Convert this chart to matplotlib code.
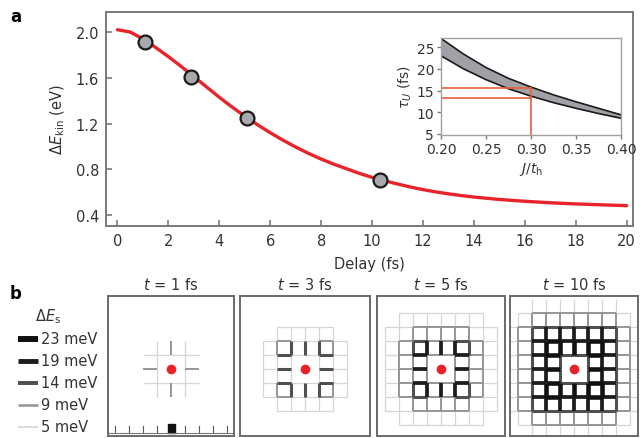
import numpy as np
import matplotlib
matplotlib.use('Agg')
import matplotlib.pyplot as plt

plt.rcParams['font.family'] = ['DejaVu Sans']
plt.rcParams['mathtext.fontset'] = 'dejavusans'

# ---- panel a data ----
delay = [0, 0.5, 1, 1.5, 2, 2.5, 3, 3.5, 4, 4.5, 5, 5.5, 6, 6.5, 7, 7.5, 8, 8.5,
         9, 9.5, 10, 10.5, 11, 11.5, 12, 12.5, 13, 13.5, 14, 15, 16, 17, 18, 19, 20]
dEkin = [2.02, 2.0, 1.94, 1.865, 1.785, 1.70, 1.61, 1.52, 1.43, 1.345, 1.265,
         1.19, 1.12, 1.055, 0.995, 0.94, 0.89, 0.845, 0.805, 0.765, 0.73, 0.70,
         0.672, 0.646, 0.623, 0.603, 0.586, 0.571, 0.558, 0.537, 0.521, 0.508,
         0.498, 0.49, 0.483]
pt_delay = [1.1, 2.9, 5.1, 10.3]
pt_dEkin = [1.91, 1.61, 1.25, 0.71]

# inset data
j_th = [0.20, 0.225, 0.25, 0.275, 0.30, 0.325, 0.35, 0.375, 0.40]
tau_hi = [27.0, 23.4, 20.3, 17.8, 15.8, 14.0, 12.4, 10.9, 9.4]
tau_lo = [23.0, 20.0, 17.5, 15.4, 13.7, 12.2, 10.9, 9.7, 8.6]
tau_mark = [15.6, 13.3]
j_mark = 0.30

# ---- panel b data ----
times = [1, 3, 5, 10]
legend_meV = [23, 19, 14, 9, 5]
# bond energies (meV) per bond class: (distance along bond, distance across)
bonds_t1 = {(1.5, 0): 9, (0.5, 1): 5, (1.5, 1): 5}
bonds_t3 = {(1.5, 0): 14, (1.5, 1): 14, (1.5, 2): 9, (0.5, 1): 5, (2.5, 0): 5,
            (2.5, 1): 5, (0.5, 2): 5, (2.5, 2): 5, (0.5, 3): 5, (1.5, 3): 5}
bonds_t5 = {(1.5, 0): 19, (1.5, 1): 19, (1.5, 2): 14, (0.5, 1): 9, (2.5, 0): 9,
            (2.5, 1): 9, (0.5, 2): 9, (2.5, 2): 9, (0.5, 3): 9, (1.5, 3): 9,
            (2.5, 3): 5, (3.5, 0): 5, (3.5, 1): 5, (3.5, 2): 5, (3.5, 3): 5,
            (0.5, 4): 5, (1.5, 4): 5, (2.5, 4): 5}
bonds_t10 = {(1.5, 0): 23, (1.5, 1): 23, (1.5, 2): 23, (0.5, 1): 14, (2.5, 0): 19,
             (2.5, 1): 19, (0.5, 2): 19, (2.5, 2): 19, (0.5, 3): 14, (1.5, 3): 14,
             (2.5, 3): 14, (3.5, 0): 9, (3.5, 1): 9, (3.5, 2): 9, (3.5, 3): 9,
             (0.5, 4): 9, (1.5, 4): 9, (2.5, 4): 9, (3.5, 4): 5,
             (4.5, 0): 5, (4.5, 1): 5, (4.5, 2): 5, (4.5, 3): 5}
all_bonds = [bonds_t1, bonds_t3, bonds_t5, bonds_t10]

style = {23: ('#111111', 3.3), 19: ('#1c1c1c', 2.7), 14: ('#505050', 2.2),
         9: ('#959595', 1.4), 5: ('#d6d6d6', 0.9)}

red = '#e8232a'
spine_c = '#7a7a7a'
txt_c = '#333333'

fig = plt.figure(figsize=(6.4, 4.39), dpi=100)

# background axes in pixel coordinates for labels/legend
bg = fig.add_axes([0, 0, 1, 1], zorder=-1)
bg.set_xlim(0, 640)
bg.set_ylim(439, 0)
bg.axis('off')
bg.text(10, 17, 'a', fontsize=12, fontweight='bold', va='center')
bg.text(10, 294, 'b', fontsize=12, fontweight='bold', va='center')

# ---- panel a ----
ax = fig.add_axes([106 / 640, 1 - 227 / 439, 527 / 640, 214 / 439])
ax.plot(delay, dEkin, color=red, lw=2.4, zorder=2, solid_capstyle='round')
ax.plot(pt_delay, pt_dEkin, 'o', ms=10, mfc='#a9a9ad', mec='#1a1a1a', mew=1.6, zorder=3)
ax.set_xlim(-0.45, 20.25)
ax.set_ylim(0.305, 2.175)
ax.set_xticks(range(0, 21, 2))
ax.set_yticks([0.4, 0.8, 1.2, 1.6, 2.0])
ax.set_yticklabels(['0.4', '0.8', '1.2', '1.6', '2.0'])
ax.tick_params(direction='in', length=4, width=1.2, color=spine_c,
               labelsize=10.5, labelcolor=txt_c, pad=5)
for s in ax.spines.values():
    s.set_color(spine_c)
    s.set_linewidth(1.4)
ax.set_xlabel('Delay (fs)', fontsize=10.5, color=txt_c, labelpad=6)
ax.set_ylabel(r'$\Delta E_{\rm kin}$ (eV)', fontsize=10.5, color=txt_c, labelpad=6)

# ---- inset ----
ins = fig.add_axes([441 / 640, 1 - 136 / 439, 180 / 640, 97 / 439])
ins.fill_between(j_th, tau_lo, tau_hi, color='#a0a0a6', lw=0)
ins.plot(j_th, tau_hi, color='#1a1a1a', lw=1.2)
ins.plot(j_th, tau_lo, color='#1a1a1a', lw=1.2)
orange = '#e8603c'
ins.plot([0.20, j_mark], [tau_mark[0], tau_mark[0]], color=orange, lw=1.2)
ins.plot([0.20, j_mark], [tau_mark[1], tau_mark[1]], color=orange, lw=1.2)
ins.plot([j_mark, j_mark], [4.7, tau_mark[0]], color=orange, lw=1.2)
ins.set_xlim(0.20, 0.40)
ins.set_ylim(4.75, 27.1)
ins.set_xticks([0.20, 0.25, 0.30, 0.35, 0.40])
ins.set_xticklabels(['0.20', '0.25', '0.30', '0.35', '0.40'])
ins.set_yticks([5, 10, 15, 20, 25])
ins.tick_params(direction='out', length=3, width=1, color=spine_c,
                labelsize=10, labelcolor=txt_c, pad=2)
for s in ins.spines.values():
    s.set_color('#a0a0a0')
    s.set_linewidth(1.0)
ins.set_xlabel(r'$J/t_{\rm h}$', fontsize=10, color=txt_c, labelpad=3)
ins.set_ylabel(r'$\tau_U$ (fs)', fontsize=10, color=txt_c, labelpad=2)

# ---- panel b lattices ----
panel_x = [(108, 234), (240, 370), (377, 505), (510, 638)]
spacing = 14.0
for k, (t, bonds) in enumerate(zip(times, all_bonds)):
    x0, x1 = panel_x[k]
    pax = fig.add_axes([x0 / 640, 1 - 437 / 439, (x1 - x0) / 640, 140 / 439])
    half = (x1 - x0) / 2 / spacing
    pax.set_xlim(-half, half)
    pax.set_ylim(-(437 - 370) / spacing, (370 - 297) / spacing)
    pax.set_xticks([])
    pax.set_yticks([])
    for s in pax.spines.values():
        s.set_color('#6a6a6a')
        s.set_linewidth(1.4)
    # draw bonds sorted by strength so strong ones lie on top
    segs = []
    for i in range(-5, 5):
        for j in range(-4, 5):
            key = (abs(i + 0.5), abs(j))
            e = bonds.get(key, 0)
            if e:
                segs.append((e, [i, i + 1], [j, j]))
                segs.append((e, [j, j], [i, i + 1]))
    segs.sort(key=lambda s: s[0])
    for e, xs, ys in segs:
        c, w = style[e]
        pax.plot(xs, ys, color=c, lw=w, solid_capstyle='butt', zorder=1)
    pax.plot([0], [0], 'o', color=red, ms=7, mec='none', zorder=3)
    pax.set_title(r'$t$ = %d fs' % t, fontsize=10.5, color=txt_c, pad=5)
    if k == 0:
        # lattice ruler at the bottom
        for i in range(-4, 5):
            pax.plot([i, i], [-4.6, -4.05], color='#555555', lw=0.8)
        pax.add_patch(plt.Rectangle((-0.25, -4.6), 0.5, 0.7, color='#111111', zorder=2))
        pax.plot([-4.4, 4.4], [-4.6, -4.6], color='#777777', lw=0.8)

# legend for bond energies
bg.text(48, 317, r'$\Delta E_{\rm s}$', fontsize=10.5, color=txt_c, ha='center', va='center')
for n, e in enumerate(legend_meV):
    yy = 340 + n * 22
    c, w = style[e]
    bg.plot([18, 38], [yy, yy], color=c, lw=w * 1.3, solid_capstyle='butt')
    bg.text(41, yy, '%d meV' % e, fontsize=10.5, color=txt_c, va='center')

fig.savefig('out.png', dpi=100)
